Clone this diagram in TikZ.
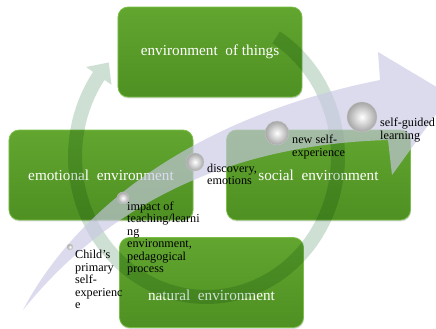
\documentclass[tikz,border=0pt]{standalone}
\usepackage{fontspec}
\setmainfont{Liberation Serif}
\usetikzlibrary{shadows}

\definecolor{boxtop}{RGB}{98,166,48}
\definecolor{boxbottom}{RGB}{78,144,34}
\definecolor{boxrim}{RGB}{122,192,70}
\definecolor{ringgreen}{RGB}{206,224,212}
\definecolor{lavender}{RGB}{200,200,228}

\tikzset{
    envtext/.style={text=white, font=\fontsize{13}{15}\selectfont},
    envbox/.style={envtext, rectangle, rounded corners=0.3cm,
        minimum width=5.52cm, minimum height=2.7cm,
        top color=boxtop, bottom color=boxbottom, draw=boxrim, line width=0.6pt,
        drop shadow={opacity=0.3, shadow xshift=0.4pt, shadow yshift=-1.2pt}},
    steplabel/.style={anchor=north west, align=left, inner sep=0pt,
        font=\fontsize{10.4}{10.7}\selectfont},
    bubble/.style={inner color=white, outer color=black!35, draw=black!22, line width=0.3pt}
}

\begin{document}
\begin{tikzpicture}[x=0.03cm, y=-0.03cm]
    \useasboundingbox (0,0) rectangle (436,329);
    \clip (0,0) rectangle (436,329);

    % the four environments
    \node[envbox] (things) at (210,52) {environment\ \ of things};
    \node[envbox] (emotional) at (101,175) {emotional\ \ environment};
    \node[envbox] (social) at (318.5,175) {social\ \ environment};
    \node[envbox] (natural) at (211.5,282.5) {};
    \node[envtext] (naturaltext) at (211.5,295) {natural\ \ environment};

    % circular arrow round the boxes (ellipse centre 206.5,156.5)
    \begin{scope}[blend mode=multiply]
        \fill[ringgreen]
            plot[domain=-58:215, samples=90] ({206.5+138.5*cos(\x)},{156.5+147.5*sin(\x)})
            -- ({206.5+147*cos(215)},{156.5+156*sin(215)})
            -- ({206.5+131.5*cos(222)},{156.5+140.5*sin(222)})
            -- ({206.5+116*cos(215)},{156.5+125*sin(215)})
            -- plot[domain=215:-58, samples=90] ({206.5+124.5*cos(\x)},{156.5+133.5*sin(\x)})
            -- cycle;
    \end{scope}

    % big rising arrow
    \coordinate (T) at (23,310);
    \coordinate (U) at (380,80);
    \coordinate (L) at (388,140);
    \fill[lavender, opacity=0.65]
        (T) .. controls (70,220) and (180,120) .. (U)
        -- (378,52) -- (450,95) -- (392,175) -- (L)
        .. controls (250,144) and (120,190) .. (T) -- cycle;

    % steps along the arrow
    \coordinate (P1) at (70,247);
    \coordinate (P2) at (123,198);
    \coordinate (P3) at (195,162);
    \coordinate (P4) at (277,133);
    \coordinate (P5) at (362,117);

    \shade[bubble] (P1) circle (3);
    \shade[bubble] (P2) circle (6);
    \shade[bubble] (P3) circle (9);
    \shade[bubble] (P4) circle (12);
    \shade[bubble] (P5) circle (15);

    \node[steplabel] (child) at (75,250) {Child's\\primary\\self-\\experienc\\e};
    \node[steplabel] (impact) at (127,201.5) {impact of\\teaching/learni\\ng\\environment,\\pedagogical\\process};
    \node[steplabel] (discovery) at (207,163.5) {discovery,\\emotions};
    \node[steplabel] (newself) at (292,135) {new self-\\experience};
    \node[steplabel] (selfguided) at (380,118) {self-guided\\learning};
\end{tikzpicture}
\end{document}
